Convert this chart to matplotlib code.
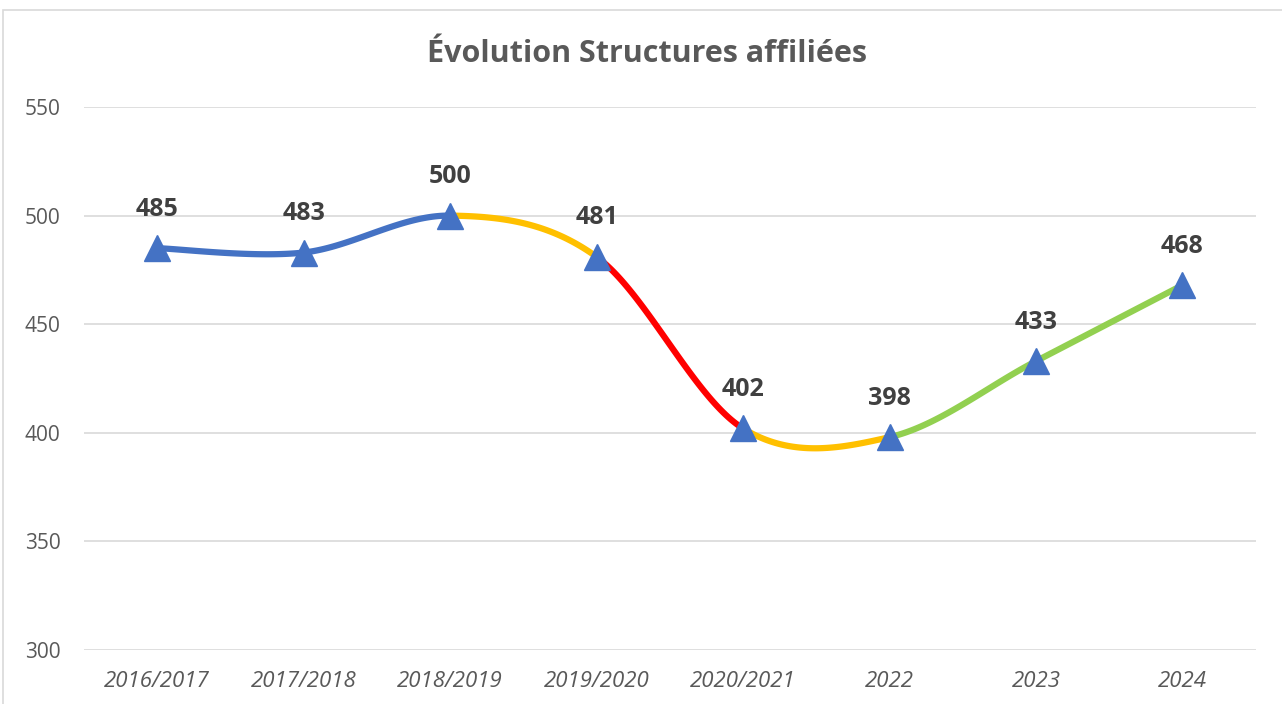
import numpy as np
import matplotlib
matplotlib.use("Agg")
import matplotlib.pyplot as plt
from matplotlib.patches import Rectangle

# data
categories = ["2016/2017", "2017/2018", "2018/2019", "2019/2020",
              "2020/2021", "2022", "2023", "2024"]
values = [485, 483, 500, 481, 402, 398, 433, 468]
segment_colors = ["#4472C4", "#4472C4", "#FFC000", "#FF0000",
                  "#FFC000", "#92D050", "#92D050"]

plt.rcParams['font.family'] = ['Open Sans', 'DejaVu Sans']

fig = plt.figure(figsize=(12.82, 7.04), dpi=100)
ax = fig.add_axes([0.0655, 0.0767, 0.914, 0.7713])

# chart border
fig.patches.append(Rectangle((3 / 1282, -0.1), 1.2, (704 - 10) / 704 + 0.1,
                             transform=fig.transFigure, fill=False,
                             edgecolor="#D9D9D9", lw=1.2))

x = np.arange(len(values))
y = np.array(values, dtype=float)

# smoothed line, Catmull-Rom style like Excel
xp = np.concatenate([[x[0]], x, [x[-1]]])
yp = np.concatenate([[y[0]], y, [y[-1]]])
t = np.linspace(0, 1, 60)
for i in range(len(values) - 1):
    p0, p1, p2, p3 = [np.array([xp[i + k], yp[i + k]]) for k in range(4)]
    c1 = p1 + (p2 - p0) / 6
    c2 = p2 - (p3 - p1) / 6
    pts = ((1 - t)[:, None] ** 3 * p1 + 3 * ((1 - t) ** 2 * t)[:, None] * c1
           + 3 * ((1 - t) * t ** 2)[:, None] * c2 + (t ** 3)[:, None] * p2)
    ax.plot(pts[:, 0], pts[:, 1], color=segment_colors[i], lw=4.5,
            solid_capstyle="butt", zorder=2)

ax.plot(x, y, ls="none", marker="^", ms=19, color="#4472C4", zorder=3)

for xi, yi in zip(x, values):
    ax.annotate(str(yi), (xi, yi), xytext=(0, 28), textcoords="offset points",
                ha="center", va="center", fontsize=18, fontweight="bold",
                color="#404040")

ax.set_xlim(-0.5, len(values) - 0.5)
ax.set_ylim(300, 550)
ax.set_yticks([300, 350, 400, 450, 500, 550])
ax.set_xticks(x)
ax.set_xticklabels(categories, fontstyle="italic", fontsize=16)
ax.tick_params(axis="both", length=0, labelcolor="#595959")
ax.tick_params(axis="y", pad=17, labelsize=15)
ax.tick_params(axis="x", pad=15)
ax.grid(axis="y", color="#D9D9D9", lw=1.2)
ax.set_axisbelow(True)
for s in ax.spines.values():
    s.set_visible(False)

fig.text(0.505, 0.924, "Évolution Structures affiliées", ha="center",
         va="center", fontsize=22, fontweight="bold", color="#595959")

fig.savefig("out.png", dpi=100)
